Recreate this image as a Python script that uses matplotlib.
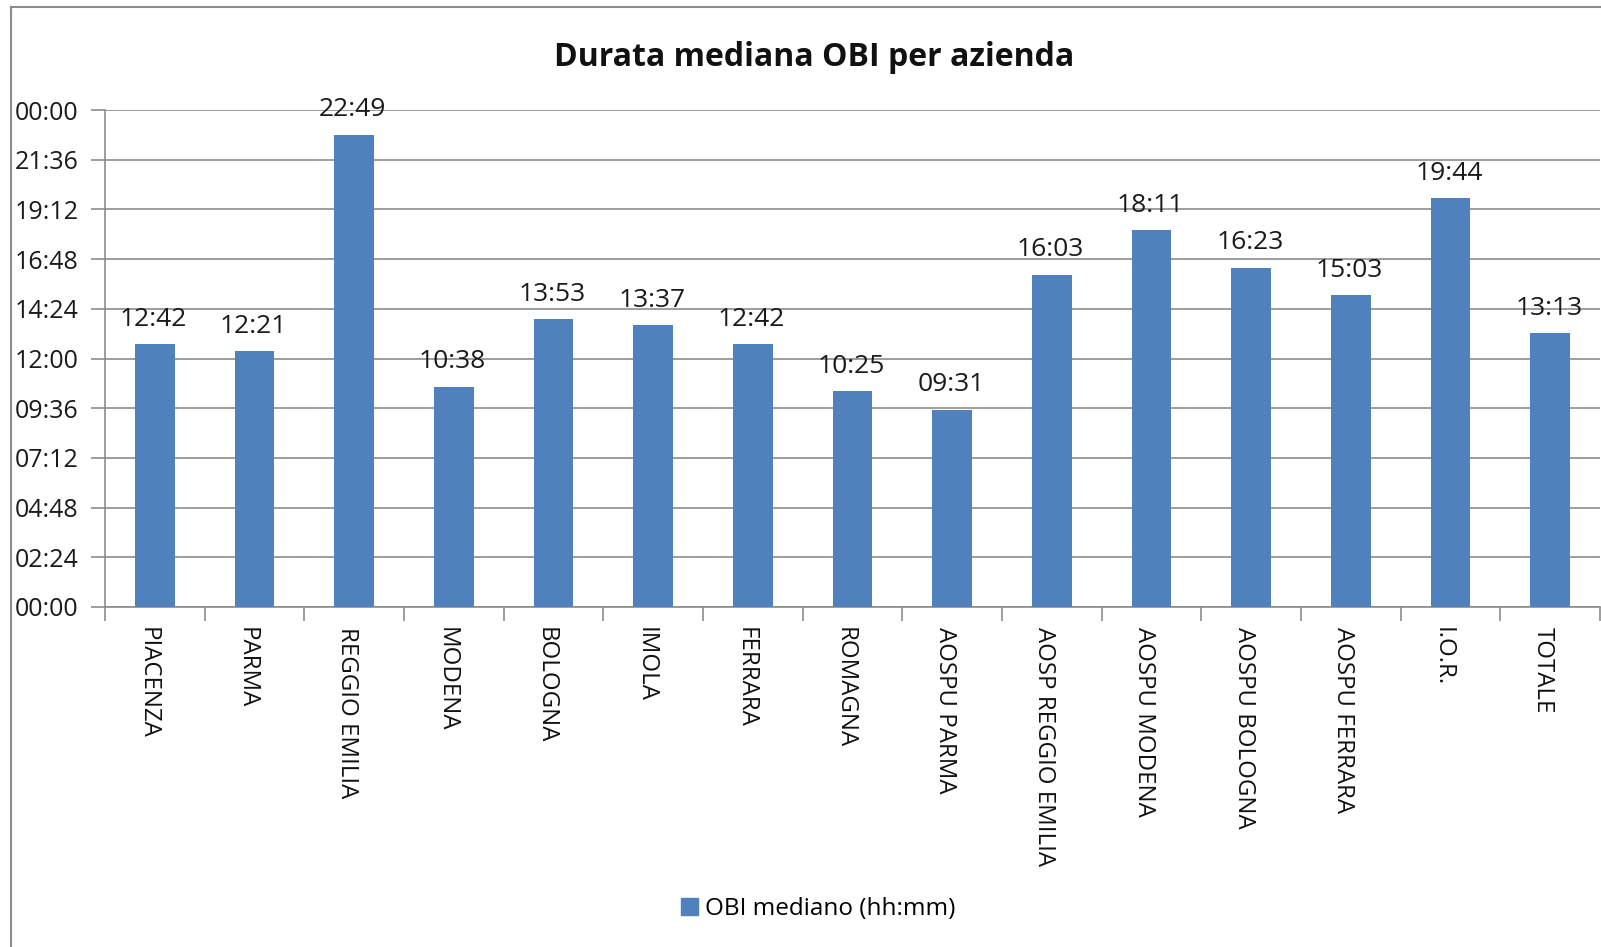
import matplotlib
matplotlib.use("Agg")
import matplotlib.pyplot as plt
import matplotlib.transforms as mtransforms
from matplotlib.lines import Line2D
from matplotlib.patches import Patch
import numpy as np

categories = ["PIACENZA", "PARMA", "REGGIO EMILIA", "MODENA", "BOLOGNA", "IMOLA",
              "FERRARA", "ROMAGNA", "AOSPU PARMA", "AOSP REGGIO EMILIA",
              "AOSPU MODENA", "AOSPU BOLOGNA", "AOSPU FERRARA", "I.O.R.", "TOTALE"]
values_hhmm = ["12:42", "12:21", "22:49", "10:38", "13:53", "13:37", "12:42", "10:25",
               "09:31", "16:03", "18:11", "16:23", "15:03", "19:44", "13:13"]
ytick_labels = ["00:00", "02:24", "04:48", "07:12", "09:36", "12:00", "14:24",
                "16:48", "19:12", "21:36", "00:00"]
series_name = "OBI mediano (hh:mm)"
title = "Durata mediana OBI per azienda"

def to_hours(s):
    h, m = s.split(":")
    return int(h) + int(m) / 60.0

values = [to_hours(v) for v in values_hhmm]

plt.rcParams['font.family'] = ['Open Sans', 'DejaVu Sans']
W, H = 1601, 947
fig = plt.figure(figsize=(W / 100, H / 100), dpi=100)
fig.patch.set_facecolor("white")

ax = fig.add_axes([105 / W, 1 - 607 / H, (1600 - 105) / W, (607 - 110) / H])
x = np.arange(len(categories))
bar_color = "#4F81BD"
bars = ax.bar(x, values, width=0.4, color=bar_color, zorder=3)

ax.set_xlim(-0.5, len(categories) - 0.5)
ax.set_ylim(0, 24)
yt = np.arange(0, 24.01, 2.4)
ax.set_yticks(yt)
ax.set_yticklabels(ytick_labels, fontsize=18, color="#1a1a1a")
ax.yaxis.grid(True, color="#8c8c8c", linewidth=1.2, zorder=0)
ax.tick_params(axis="y", length=10, width=1.2, color="#8c8c8c", pad=9)

ax.set_xticks(x)
ax.set_xticklabels([])
ax.set_xticks(np.arange(-0.5, len(categories), 1.0), minor=True)
ax.tick_params(axis="x", which="major", length=0)
ax.tick_params(axis="x", which="minor", length=10, width=1.2, color="#8c8c8c")

# category labels, rotated to read top-down
base = mtransforms.blended_transform_factory(ax.transData, ax.transAxes)
shift = mtransforms.ScaledTranslation(-0.075, -0.20, fig.dpi_scale_trans)
for xi, lab in zip(x, categories):
    ax.text(xi, 0, lab, transform=base + shift, rotation=270, rotation_mode="anchor",
            ha="left", va="center", fontsize=17.3, color="#111111", clip_on=False)

for side in ["top", "right"]:
    ax.spines[side].set_visible(False)
for side in ["left", "bottom"]:
    ax.spines[side].set_color("#8c8c8c")
    ax.spines[side].set_linewidth(1.2)

for xi, v, lab in zip(x, values, values_hhmm):
    ax.annotate(lab, (xi, v), xytext=(-1, 9), textcoords="offset points",
                ha="center", va="bottom", fontsize=19, color="#1a1a1a")

fig.text(814 / W, 1 - 57 / H, title, ha="center", va="center",
         fontsize=23, fontweight="bold", color="#111111")

handle = Patch(facecolor=bar_color, edgecolor=bar_color)
fig.legend([handle], [series_name], loc="center", bbox_to_anchor=(818 / W, 1 - 909 / H),
           frameon=False, fontsize=17.5, handlelength=0.7, handleheight=0.7,
           handletextpad=0.3)

# chart area border
fig.add_artist(Line2D([11 / W, 11 / W], [1 - 7 / H, 0], transform=fig.transFigure,
                      color="#8c8c8c", linewidth=1.5))
fig.add_artist(Line2D([11 / W, 1], [1 - 7 / H, 1 - 7 / H], transform=fig.transFigure,
                      color="#8c8c8c", linewidth=1.5))

fig.savefig("out.png", dpi=100, facecolor="white")
